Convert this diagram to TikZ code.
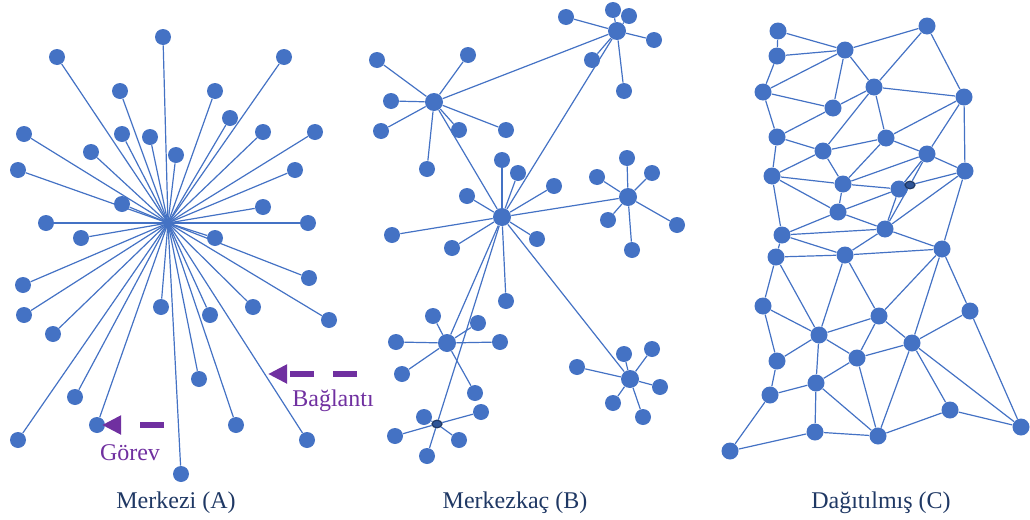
\documentclass[tikz,border=0pt]{standalone}
\usepackage{fontspec}
\setmainfont{Liberation Serif}
\usetikzlibrary{shapes.geometric,arrows.meta,backgrounds}
\definecolor{netblue}{HTML}{4472C4}
\definecolor{relayblue}{HTML}{2F5597}
\definecolor{relayedge}{HTML}{1F3864}
\definecolor{tagpurple}{HTML}{7030A0}
\definecolor{capnavy}{HTML}{1F3864}
\tikzset{
  leaf/.style={circle, fill=netblue, inner sep=0pt, minimum size=8pt},
  hub/.style={leaf, minimum size=9pt},
  mesh/.style={leaf, minimum size=8.5pt},
  relay/.style={ellipse, fill=relayblue, draw=relayedge, line width=0.6pt, inner sep=0pt, minimum width=5pt, minimum height=3.8pt},
  link/.style={draw=netblue, line width=0.6pt},
  tagtext/.style={text=tagpurple, font=\fontsize{12}{14}\selectfont, anchor=base},
  capt/.style={text=capnavy, font=\fontsize{12}{14}\selectfont, anchor=base},
  hintarrow/.style={draw=tagpurple, line width=3pt, dash pattern=on 12pt off 9.5pt, -{Triangle[length=9.5pt,width=9pt]}}
}
\def\aleaves{163/37, 57/57, 284/57, 120/91, 215/91, 230/118, 24/134, 122/134, 150/137, 263/132, 315/132, 91/152, 176/155, 18/170, 295/170, 122/204, 263/207, 46/223, 308/223, 81/238, 215/238, 309/278, 23/285, 24/315, 161/307, 210/315, 253/307, 329/320, 53/334, 199/379, 75/397, 97/425, 236/425, 18/440, 307/440, 181/474}
\def\bleaves{377/60/1, 468/55/1, 391/101/1, 381/131/1, 459/130/1, 506/130/1, 427/169/1,
  566/17/2, 613/10/2, 629/16/2, 654/40/2, 592/60/2, 624/91/2,
  502/160/3, 518/173/3, 554/186/3, 467/196/3, 392/235/3, 452/248/3, 537/239/3, 506/301/3,
  627/158/4, 597/177/4, 652/173/4, 608/220/4, 677/225/4, 632/250/4,
  433/316/5, 478/323/5, 396/342/5, 500/342/5, 402/374/5, 475/393/5,
  424/417/6, 481/412/6, 395/436/6, 459/440/6, 427/456/6,
  577/367/7, 624/354/7, 652/349/7, 660/387/7, 613/403/7, 643/417/7}
\begin{document}
\begin{tikzpicture}[x=0.5pt, y=-0.5pt]
  \useasboundingbox (0,0) rectangle (1030,520);

  % Merkezi
  \coordinate (ac) at (168,223);
  \foreach \x/\y [count=\i] in \aleaves
    \node[leaf] (a\i) at (\x,\y) {};
  \begin{scope}[on background layer]
    \foreach \i in {1,...,36}
      \draw[link] (ac) -- (a\i);
  \end{scope}

  % Merkezkac
  \node[hub] (bh1) at (434,102) {};
  \node[hub] (bh2) at (617,31) {};
  \node[hub] (bh3) at (502,217) {};
  \node[hub] (bh4) at (628,197) {};
  \node[hub] (bh5) at (447,343) {};
  \node[relay] (bh6) at (437,424) {};
  \node[hub] (bh7) at (630,379) {};
  \foreach \x/\y/\h [count=\i] in \bleaves
    \node[leaf] (b\i) at (\x,\y) {};
  \begin{scope}[on background layer]
    \foreach \x/\y/\h [count=\i] in \bleaves
      \draw[link] (bh\h) -- (b\i);
    \foreach \p/\q in {1/2, 1/3, 3/2, 3/4, 3/5, 3/6, 3/7}
      \draw[link] (bh\p) -- (bh\q);
  \end{scope}

  % Dagitilmis
  \foreach \i/\x/\y in {1/778/31, 2/927/26, 3/777/56, 4/845/50, 5/763/92, 6/874/87,
      7/964/97, 8/833/108, 9/777/137, 10/886/138, 11/823/151, 12/927/154,
      13/772/176, 14/965/171, 15/843/184, 16/899/189, 18/838/212, 19/885/229,
      20/782/235, 21/942/249, 22/776/257, 23/845/255, 24/763/306, 25/879/316,
      26/970/311, 27/819/335, 28/912/343, 29/777/361, 30/857/358, 31/816/383,
      32/770/395, 33/950/410, 34/1021/427, 35/815/432, 36/878/436, 37/730/451}
    \node[mesh] (c\i) at (\x,\y) {};
  \node[relay] (c17) at (910,185) {};
  \begin{scope}[on background layer]
    \foreach \p/\q in {1/3, 1/4, 3/4, 4/2, 3/5, 5/4, 4/8, 4/6, 2/6, 2/7, 5/8, 8/6,
        6/7, 5/9, 9/8, 9/11, 6/11, 6/10, 11/10, 10/7, 10/12, 7/12, 7/14, 12/14,
        9/13, 13/11, 11/15, 10/15, 15/12, 13/15, 15/16, 12/16, 12/17, 16/19,
        17/19, 17/14, 13/18, 15/18, 18/16, 18/20, 18/19, 20/19, 19/14, 14/21,
        19/21, 20/22, 20/23, 22/23, 23/21, 23/19, 13/20,
        22/24, 22/27, 23/27, 23/25, 21/25, 21/28, 21/26, 24/27, 24/29, 27/25,
        27/30, 27/31, 25/28, 25/30, 30/28, 28/26, 29/32, 29/27, 32/31, 31/30,
        31/35, 31/36, 30/36, 28/36, 28/33, 28/34, 26/34, 33/34, 33/36, 35/36,
        32/37, 37/35}
      \draw[link] (c\p) -- (c\q);
  \end{scope}

  % hints
  \coordinate (linkfrom) at (357,374);
  \coordinate (linkto) at (268,374);
  \draw[hintarrow] (linkfrom) -- (linkto);
  \node[tagtext] (linklbl) at (333,406) {Bağlantı};
  \coordinate (taskfrom) at (164,425);
  \coordinate (taskto) at (102,425);
  \draw[hintarrow] (taskfrom) -- (taskto);
  \node[tagtext] (tasklbl) at (130,460) {Görev};

  % captions
  \node[capt] (capa) at (176,508) {Merkezi (A)};
  \node[capt] (capb) at (515,508) {Merkezkaç (B)};
  \node[capt] (capc) at (881,508) {Dağıtılmış (C)};
\end{tikzpicture}
\end{document}
